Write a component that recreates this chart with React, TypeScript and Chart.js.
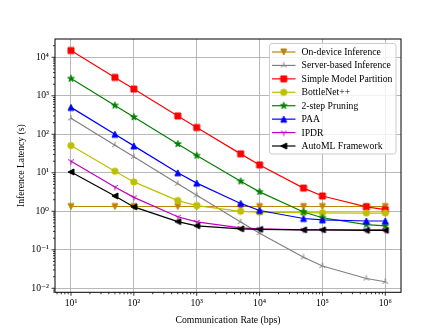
import React, { useEffect, useRef } from 'react';
import { Chart, registerables } from 'chart.js';

Chart.register(...registerables);

// ---- data ----
const rates = [10, 50, 100, 500, 1000, 5000, 10000, 50000, 100000, 500000, 1000000];

const onDevice = [1.33, 1.33, 1.33, 1.33, 1.33, 1.33, 1.33, 1.33, 1.33, 1.33, 1.33];
const serverBased = [260, 52, 26, 5.2, 2.6, 0.53, 0.27, 0.064, 0.038, 0.018, 0.0148];
const simplePartition = [15000, 3000, 1500, 300, 150, 31, 16, 4, 2.5, 1.3, 1.1];
const bottleNet = [51, 11, 5.8, 1.9, 1.4, 1.0, 0.95, 0.92, 0.91, 0.9, 0.9];
const twoStepPruning = [2800, 560, 280, 56, 28, 6, 3.2, 0.96, 0.68, 0.45, 0.42];
const paa = [500, 100, 50, 10, 5.4, 1.6, 1.05, 0.65, 0.6, 0.56, 0.56];
const ipdr = [20, 4.3, 2.3, 0.72, 0.53, 0.37, 0.35, 0.33, 0.33, 0.33, 0.33];
const autoML = [10.5, 2.5, 1.3, 0.54, 0.42, 0.35, 0.34, 0.33, 0.33, 0.32, 0.32];

const seriesNames = [
  'On-device Inference',
  'Server-based Inference',
  'Simple Model Partition',
  'BottleNet++',
  '2-step Pruning',
  'PAA',
  'IPDR',
  'AutoML Framework',
];
const seriesValues = [onDevice, serverBased, simplePartition, bottleNet, twoStepPruning, paa, ipdr, autoML];
const seriesColors = ['#b8860b', '#808080', '#ff0000', '#bfbf00', '#008000', '#0000ff', '#bf00bf', '#000000'];
const seriesMarkers = ['tri-down', 'y-up', 'square', 'circle', 'star', 'tri-up', 'y-down', 'tri-left'];

const xTickExponents = [1, 2, 3, 4, 5, 6];
const yTickExponents = [-2, -1, 0, 1, 2, 3, 4];

const xLabel = 'Communication Rate (bps)';
const yLabel = 'Inference Latency (s)';

// ---- helpers ----
const FONT = "'Liberation Serif', 'DejaVu Serif', serif";
const FS = 9.7;
const SUP: Record<string, string> = {
  '0': '⁰', '1': '¹', '2': '²', '3': '³', '4': '⁴', '5': '⁵', '6': '⁶', '7': '⁷', '8': '⁸', '9': '⁹', '-': '⁻',
};
const sup = (n: number) => String(n).split('').map((c) => SUP[c] || c).join('');
const isPow10 = (v: number) => {
  const l = Math.log10(v);
  return Math.abs(l - Math.round(l)) < 1e-9;
};

function makeMarker(kind: string, color: string): HTMLCanvasElement {
  const c = document.createElement('canvas');
  c.width = 14;
  c.height = 14;
  const g = c.getContext('2d')!;
  g.translate(7, 7);
  g.fillStyle = color;
  g.strokeStyle = color;
  g.lineWidth = 1;
  g.lineJoin = 'miter';
  const s = 3;
  g.beginPath();
  switch (kind) {
    case 'square':
      g.rect(-3, -3, 6, 6);
      g.fill();
      g.stroke();
      break;
    case 'circle':
      g.arc(0, 0, 3.3, 0, Math.PI * 2);
      g.fill();
      g.lineWidth = 0.6;
      g.stroke();
      break;
    case 'tri-up':
      g.moveTo(0, -s);
      g.lineTo(-s, s);
      g.lineTo(s, s);
      g.closePath();
      g.fill();
      g.stroke();
      break;
    case 'tri-down':
      g.moveTo(0, s);
      g.lineTo(-s, -s);
      g.lineTo(s, -s);
      g.closePath();
      g.fill();
      g.stroke();
      break;
    case 'tri-left':
      g.moveTo(-s, 0);
      g.lineTo(s, -s);
      g.lineTo(s, s);
      g.closePath();
      g.fill();
      g.stroke();
      break;
    case 'star': {
      const R = 3.6;
      const r = 1.45;
      for (let i = 0; i < 10; i++) {
        const a = -Math.PI / 2 + (i * Math.PI) / 5;
        const rr = i % 2 === 0 ? R : r;
        const px = Math.cos(a) * rr;
        const py = Math.sin(a) * rr;
        if (i === 0) g.moveTo(px, py);
        else g.lineTo(px, py);
      }
      g.closePath();
      g.fill();
      g.lineWidth = 0.8;
      g.stroke();
      break;
    }
    case 'y-up': {
      const L = 3.4;
      g.moveTo(0, 0);
      g.lineTo(0, -L);
      g.moveTo(0, 0);
      g.lineTo(-L * 0.866, L * 0.5);
      g.moveTo(0, 0);
      g.lineTo(L * 0.866, L * 0.5);
      g.stroke();
      break;
    }
    case 'y-down': {
      const L = 3.4;
      g.moveTo(0, 0);
      g.lineTo(0, L);
      g.moveTo(0, 0);
      g.lineTo(-L * 0.866, -L * 0.5);
      g.moveTo(0, 0);
      g.lineTo(L * 0.866, -L * 0.5);
      g.stroke();
      break;
    }
  }
  return c;
}

function logTicks(min: number, max: number) {
  const out: { value: number }[] = [];
  const e0 = Math.floor(Math.log10(min));
  const e1 = Math.ceil(Math.log10(max));
  for (let e = e0; e <= e1; e++) {
    for (let m = 1; m <= 9; m++) {
      const v = m * Math.pow(10, e);
      if (v >= min && v <= max) out.push({ value: v });
    }
  }
  return out;
}

export default function App() {
  const ref = useRef<HTMLCanvasElement>(null);

  useEffect(() => {
    const markers = seriesMarkers.map((m, i) => makeMarker(m, seriesColors[i]));
    const N = seriesNames.length;

    const datasets = seriesNames.map((name, i) => ({
      label: name,
      data: rates.map((x, j) => ({ x, y: seriesValues[i][j] })),
      borderColor: seriesColors[i],
      backgroundColor: seriesColors[i],
      borderWidth: 1.2,
      pointStyle: markers[i] as any,
      pointRadius: 4,
      tension: 0,
      order: N - 1 - i,
    }));

    const xMin = Math.pow(10, 0.7455);
    const xMax = Math.pow(10, 6.25);
    const yMin = Math.pow(10, -2.104);
    const yMax = Math.pow(10, 4.475);

    const frame = {
      id: 'frame',
      afterDatasetsDraw(chart: any) {
        const { ctx, chartArea } = chart;
        const { left, right, top, bottom } = chartArea;
        ctx.save();
        ctx.strokeStyle = '#000';
        ctx.lineWidth = 0.8;
        const xs = chart.scales.x;
        const ys = chart.scales.y;
        ctx.beginPath();
        xs.ticks.forEach((t: any) => {
          const p = xs.getPixelForValue(t.value);
          if (p < left - 0.5 || p > right + 0.5) return;
          const len = isPow10(t.value) ? 3.5 : 2;
          ctx.moveTo(p, bottom);
          ctx.lineTo(p, bottom + len);
        });
        ys.ticks.forEach((t: any) => {
          const p = ys.getPixelForValue(t.value);
          if (p < top - 0.5 || p > bottom + 0.5) return;
          const len = isPow10(t.value) ? 3.5 : 2;
          ctx.moveTo(left, p);
          ctx.lineTo(left - len, p);
        });
        ctx.stroke();
        ctx.lineWidth = 1;
        ctx.strokeRect(left, top, right - left, bottom - top);
        ctx.restore();
      },
      afterDraw(chart: any) {
        const { ctx } = chart;
        ctx.save();
        const bx = 269.5, by = 43.5, bw = 126.5, bh = 110.5, r = 2.5;
        ctx.beginPath();
        ctx.moveTo(bx + r, by);
        ctx.arcTo(bx + bw, by, bx + bw, by + bh, r);
        ctx.arcTo(bx + bw, by + bh, bx, by + bh, r);
        ctx.arcTo(bx, by + bh, bx, by, r);
        ctx.arcTo(bx, by, bx + bw, by, r);
        ctx.closePath();
        ctx.fillStyle = 'rgba(255,255,255,0.8)';
        ctx.fill();
        ctx.strokeStyle = '#cccccc';
        ctx.lineWidth = 1;
        ctx.stroke();
        ctx.font = `${FS}px ${FONT}`;
        ctx.textBaseline = 'middle';
        ctx.textAlign = 'left';
        seriesNames.forEach((name, i) => {
          const y = 52 + i * 13.43;
          ctx.strokeStyle = seriesColors[i];
          ctx.lineWidth = 1.2;
          ctx.beginPath();
          ctx.moveTo(272, y);
          ctx.lineTo(295.5, y);
          ctx.stroke();
          ctx.drawImage(markers[i], 283.7 - 7, y - 7);
          ctx.fillStyle = '#000';
          ctx.fillText(name, 301.5, y + 0.5);
        });
        ctx.restore();
      },
    };

    const gridColor = (c: any) => (c.tick && isPow10(c.tick.value) ? '#b0b0b0' : 'rgba(0,0,0,0)');

    const chart = new Chart(ref.current!, {
      type: 'line',
      data: { datasets: datasets as any },
      options: {
        animation: false,
        responsive: false,
        devicePixelRatio: 1,
        layout: { padding: { left: 0, top: 39, right: 45, bottom: 0 } },
        plugins: {
          legend: { display: false },
          tooltip: { enabled: false },
        },
        scales: {
          x: {
            type: 'logarithmic',
            min: xMin,
            max: xMax,
            afterBuildTicks: (s: any) => {
              s.ticks = logTicks(xMin, xMax);
            },
            afterFit: (s: any) => {
              s.height = 329 - 292.3;
            },
            border: { display: false },
            grid: { color: gridColor, lineWidth: 0.9, tickLength: 3.5, tickColor: 'rgba(0,0,0,0)' },
            ticks: {
              autoSkip: false,
              maxRotation: 0,
              padding: 2,
              color: '#000',
              font: { family: FONT, size: FS },
              callback: (v: any) => {
                const n = Number(v);
                if (!isPow10(n)) return '';
                const e = Math.round(Math.log10(n));
                return xTickExponents.includes(e) ? '10' + sup(e) : '';
              },
            },
            title: {
              display: true,
              text: xLabel,
              color: '#000',
              font: { family: FONT, size: FS },
              padding: { top: 0, bottom: 3 },
            },
          },
          y: {
            type: 'logarithmic',
            min: yMin,
            max: yMax,
            afterBuildTicks: (s: any) => {
              s.ticks = logTicks(yMin, yMax);
            },
            afterFit: (s: any) => {
              s.width = 55;
            },
            border: { display: false },
            grid: { color: gridColor, lineWidth: 0.9, tickLength: 3.5, tickColor: 'rgba(0,0,0,0)' },
            ticks: {
              autoSkip: false,
              padding: 2.5,
              color: '#000',
              font: { family: FONT, size: FS },
              callback: (v: any) => {
                const n = Number(v);
                if (!isPow10(n)) return '';
                const e = Math.round(Math.log10(n));
                return yTickExponents.includes(e) ? '10' + sup(e) : '';
              },
            },
            title: {
              display: true,
              text: yLabel,
              color: '#000',
              font: { family: FONT, size: FS },
              padding: { top: 16, bottom: 0 },
            },
          },
        },
      },
      plugins: [frame],
    });
    return () => chart.destroy();
  }, []);

  return (
    <div style={{ position: 'fixed', left: 0, top: 0, width: 446, height: 329, background: '#fff' }}>
      <canvas ref={ref} width={446} height={329} style={{ display: 'block' }} />
    </div>
  );
}
